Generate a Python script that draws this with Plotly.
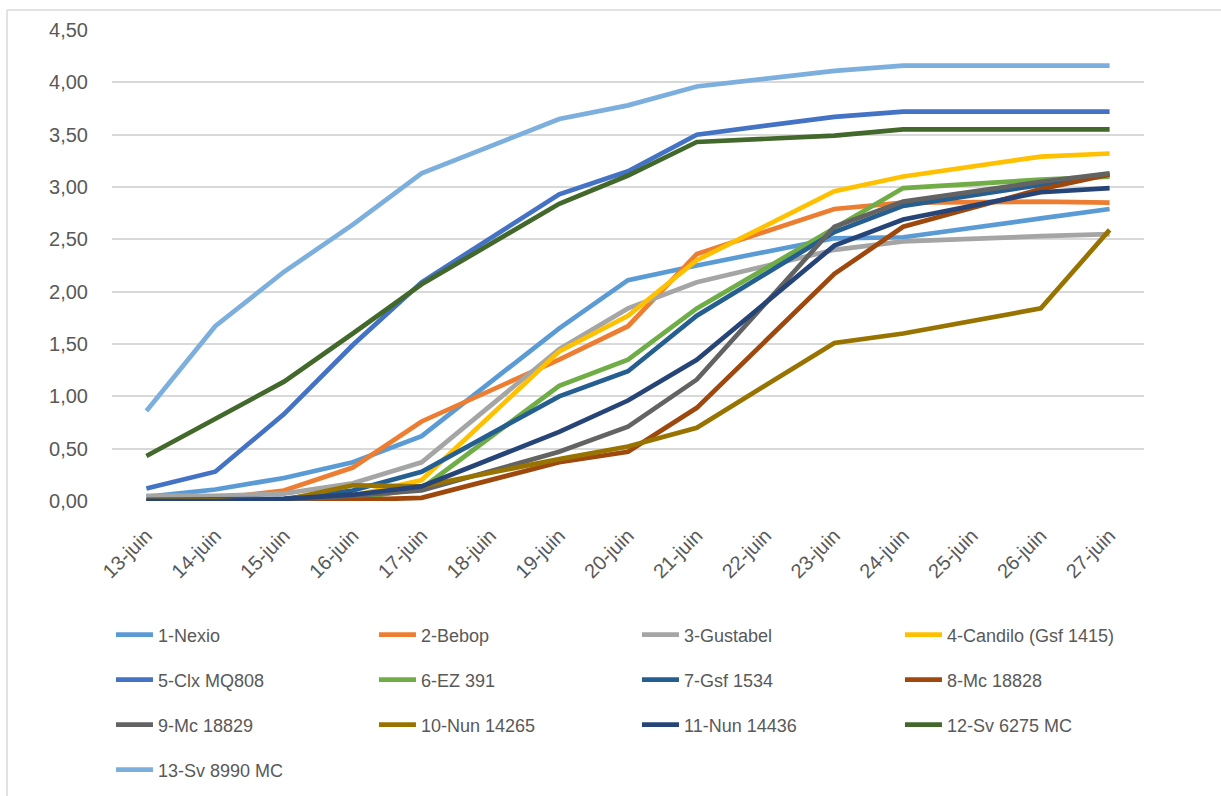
import plotly.graph_objects as go

dates = ["13-juin", "14-juin", "15-juin", "16-juin", "17-juin", "18-juin", "19-juin",
         "20-juin", "21-juin", "22-juin", "23-juin", "24-juin", "25-juin", "26-juin", "27-juin"]

N = None
nexio      = [0.04, 0.11, 0.22, 0.37, 0.62, N, 1.65, 2.11, 2.25, N, 2.51, 2.52, N, 2.70, 2.79]
bebop      = [0.00, 0.02, 0.10, 0.32, 0.76, N, 1.35, 1.67, 2.36, N, 2.79, 2.85, N, 2.86, 2.85]
gustabel   = [0.05, 0.05, 0.07, 0.17, 0.37, N, 1.45, 1.84, 2.09, N, 2.40, 2.48, N, 2.53, 2.55]
candilo    = [0.00, 0.00, 0.00, 0.05, 0.20, N, 1.43, 1.77, 2.30, N, 2.96, 3.10, N, 3.29, 3.32]
clx        = [0.12, 0.28, 0.83, 1.49, 2.09, N, 2.93, 3.15, 3.50, N, 3.67, 3.72, N, 3.72, 3.72]
ez391      = [0.00, 0.00, 0.00, 0.02, 0.12, N, 1.10, 1.35, 1.84, N, 2.60, 2.99, N, 3.07, 3.10]
gsf1534    = [0.01, 0.01, 0.02, 0.10, 0.28, N, 1.00, 1.24, 1.77, N, 2.57, 2.82, N, 3.02, 3.12]
mc18828    = [0.00, 0.00, 0.00, 0.01, 0.03, N, 0.37, 0.47, 0.89, N, 2.17, 2.62, N, 2.98, 3.12]
mc18829    = [0.00, 0.00, 0.01, 0.05, 0.10, N, 0.47, 0.71, 1.16, N, 2.62, 2.86, N, 3.05, 3.13]
nun14265   = [0.00, 0.00, 0.01, 0.15, 0.14, N, 0.40, 0.52, 0.70, N, 1.51, 1.60, N, 1.84, 2.59]
nun14436   = [0.00, 0.00, 0.02, 0.06, 0.14, N, 0.66, 0.96, 1.35, N, 2.44, 2.69, N, 2.95, 2.99]
sv6275     = [0.43, 0.78, 1.14, 1.60, 2.07, N, 2.84, 3.11, 3.43, N, 3.49, 3.55, N, 3.55, 3.55]
sv8990     = [0.86, 1.67, 2.19, 2.64, 3.13, N, 3.65, 3.78, 3.96, N, 4.11, 4.16, N, 4.16, 4.16]

names = ["1-Nexio", "2-Bebop", "3-Gustabel", "4-Candilo (Gsf 1415)", "5-Clx MQ808",
         "6-EZ 391", "7-Gsf 1534", "8-Mc 18828", "9-Mc 18829", "10-Nun 14265",
         "11-Nun 14436", "12-Sv 6275 MC", "13-Sv 8990 MC"]
series = [nexio, bebop, gustabel, candilo, clx, ez391, gsf1534, mc18828, mc18829,
          nun14265, nun14436, sv6275, sv8990]
colors = ["#5B9BD5", "#ED7D31", "#A5A5A5", "#FFC000", "#4472C4", "#70AD47", "#255E91",
          "#9E480E", "#636363", "#997300", "#264478", "#43682B", "#7CAFDD"]

legend_ids = ["legend", "legend2", "legend3", "legend4"]

fig = go.Figure()
for i, (nm, vals, col) in enumerate(zip(names, series, colors)):
    fig.add_trace(go.Scatter(
        x=dates, y=vals, name=nm, mode="lines", connectgaps=True,
        line=dict(color=col, width=4.7),
        legend=legend_ids[i // 4],
    ))

FONT = "Liberation Sans"
W, H = 1221, 796
ml, mr, mt, mb = 112, 77, 30, 295
ph = H - mt - mb
pw = W - ml - mr

def py(pix):
    return (H - mb - pix) / ph

def px(pix):
    return (pix - ml) / pw

leg_common = dict(orientation="h", xanchor="left", yanchor="middle", x=-0.001,
                  itemwidth=37,
                  font=dict(family=FONT, size=18, color="#595959"),
                  entrywidth=211, entrywidthmode="pixels", bgcolor="rgba(0,0,0,0)",
                  traceorder="normal")
row_y = [635, 680, 725, 770]

fig.update_layout(
    width=W, height=H,
    margin=dict(l=ml, r=mr, t=mt, b=mb, autoexpand=False),
    paper_bgcolor="white", plot_bgcolor="white",
    separators=", ",
    showlegend=True,
    legend=dict(leg_common, y=py(row_y[0])),
    legend2=dict(leg_common, y=py(row_y[1])),
    legend3=dict(leg_common, y=py(row_y[2])),
    legend4=dict(leg_common, y=py(row_y[3])),
    xaxis=dict(type="category", range=[-0.5, 14.5], showgrid=False, zeroline=False,
               showline=False, ticks="", tickangle=-45, ticklabelstandoff=18,
               tickfont=dict(family=FONT, size=20, color="#595959")),
    yaxis=dict(range=[0, 4.5], dtick=0.5, tick0=0, tickformat=".2f",
               showgrid=True, gridcolor="#D9D9D9", gridwidth=1.5, zeroline=False,
               showline=False, ticks="", ticklabelstandoff=23,
               tickfont=dict(family=FONT, size=20, color="#595959")),
    shapes=[
        dict(type="line", xref="paper", yref="paper",
             x0=px(7), x1=px(7), y0=py(10), y1=py(H),
             line=dict(color="#D9D9D9", width=1.5)),
        dict(type="line", xref="paper", yref="paper",
             x0=px(7), x1=px(W), y0=py(10), y1=py(10),
             line=dict(color="#D9D9D9", width=1.5)),
    ],
)

fig.write_html("out.html", config={"displayModeBar": False},
               post_script="document.body.style.margin='0';document.body.style.overflow='hidden';")
